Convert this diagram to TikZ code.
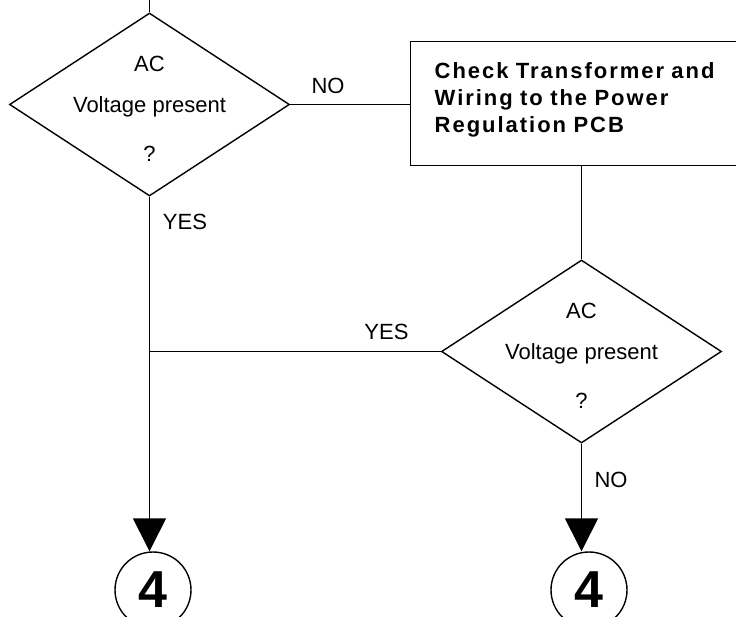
\documentclass[tikz,border=0pt]{standalone}
\usepackage{fontspec}
\setmainfont{Liberation Sans}
\usetikzlibrary{positioning,arrows.meta,shapes.geometric}
\newcommand{\chkfont}{\fontsize{22}{27}\selectfont\bfseries
  \addfontfeatures{LetterSpace=9}\spaceskip=8.5pt\relax}

\begin{document}
\begin{tikzpicture}[
    x=1pt,y=-1pt,
    line width=1.4pt,
    dec/.style={draw,diamond,minimum width=280pt,minimum height=183pt,inner sep=0pt},
    dectext/.style={align=center,inner sep=0pt,font=\fontsize{22}{41}\selectfont},
    chk/.style={draw,rectangle,anchor=north west,text width=330pt,inner xsep=24pt,
                minimum height=124pt,align=left,font=\chkfont},
    lbl/.style={inner sep=0pt,font=\fontsize{22}{26}\selectfont},
    conn/.style={draw,circle,minimum size=76pt,inner sep=0pt,
                 font=\fontsize{52}{52}\selectfont\bfseries},
    flow/.style={-{Triangle[length=33pt,width=33pt]}},
]
\useasboundingbox (0,0) rectangle (736,617);
\clip (0,0) rectangle (736,617);

% --- decisions and check box ---
\node[dec] (d1) at (149.5,104.5) {};
\node[dectext,yshift=-4pt] (d1txt) at (d1) {AC\\Voltage present\\[8pt]?};
\node[chk] (chk) at (410,41) {Check Transformer and\\Wiring to the Power\\Regulation PCB\\[-15pt]\mbox{}};
\node[dec] (d2) at (581.5,351.5) {};
\node[dectext,yshift=-4pt] (d2txt) at (d2) {AC\\Voltage present\\[8pt]?};

% off-page connectors
\node[conn] (c1) at (153,590) {4};
\node[conn] (c2) at (589,590) {4};

% branch labels
\node[lbl] (no1)  at (328,86)    {NO};
\node[lbl] (yes1) at (185,221.5) {YES};
\node[lbl] (yes2) at (386.5,331.5) {YES};
\node[lbl] (no2)  at (611,480)   {NO};

% --- connectors ---
\coordinate (in) at (149.5,-5);
\coordinate (join) at (d1.south |- d2.west);
\draw (in) -- (d1.north);
\draw (d1.east) -- (chk.west |- d1.east);
\draw (d2.north |- chk.south) -- (d2.north);
\draw (d2.west) -- (join);
\draw[flow] (d1.south) -- (d1.south |- c1.north);
\draw[flow] (d2.south) -- (d2.south |- c2.north);
\end{tikzpicture}
\end{document}
